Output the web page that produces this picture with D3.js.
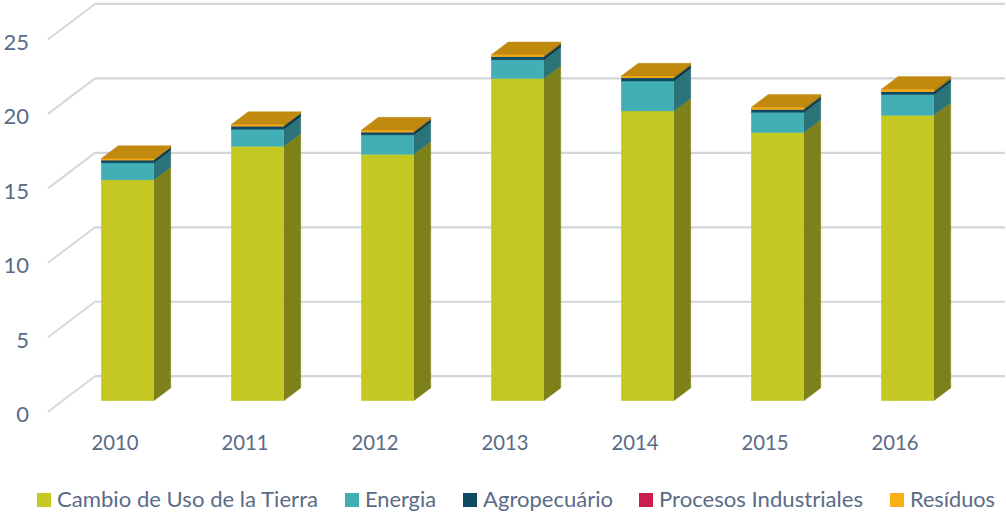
<!DOCTYPE html>
<html><head><meta charset="utf-8">
<script src="https://cdn.jsdelivr.net/npm/d3@7"></script>
<style>html,body{margin:0;padding:0;background:#fff;}svg{display:block;}</style>
</head><body>
<svg id="c" width="1006" height="516"></svg>
<script>
const years = ["2010","2011","2012","2013","2014","2015","2016"];
const cambio   = [14.83, 17.09, 16.55, 21.64, 19.46, 18.01, 19.17];
const energia  = [1.14, 1.14, 1.30, 1.25, 2.01, 1.36, 1.39];
const agro     = [0.18, 0.20, 0.18, 0.20, 0.20, 0.18, 0.18];
const procesos = [0.01, 0.01, 0.01, 0.01, 0.01, 0.01, 0.01];
const residuos = [0.11, 0.11, 0.13, 0.13, 0.13, 0.15, 0.16];
const seriesNames = ["Cambio de Uso de la Tierra","Energia","Agropecuário","Procesos Industriales","Resíduos"];
const yTicks = [0,5,10,15,20,25];

const seriesVals = [cambio, energia, agro, procesos, residuos];
const front = ["#C3C823","#42AEB6","#0C4B62","#CC1E4A","#F5AA0E"];
const side  = ["#7E8019","#2A7378","#083547","#8A1432","#A8760A"];
const topC  = "#C1890E";
const legendSw = ["#C3C823","#42AEB6","#0C4B62","#CC1E4A","#F9B016"];

const svg = d3.select("#c");
const DX = 47, DY = 35.5;
const y = d3.scaleLinear().domain([0,25]).range([411.7, 39.45]);
const x = d3.scaleBand().domain(years).range([48, 958]).paddingInner(0.596).paddingOuter(0.298);
const textColor = "#5A6B86";
const font = "Lato, 'Open Sans', sans-serif";

const g = svg.append("g");
yTicks.forEach(t => {
  const yf = y(t), yb = y(t) - DY;
  g.append("line").attr("x1",48).attr("y1",yf).attr("x2",48+DX).attr("y2",yb)
    .attr("stroke","#D6D8DC").attr("stroke-width",2);
  g.append("line").attr("x1",48+DX).attr("y1",yb).attr("x2",1005).attr("y2",yb)
    .attr("stroke","#D3D5D9").attr("stroke-width",2.2);
  svg.append("text").attr("x",29).attr("y",yf+2).attr("text-anchor","end")
    .attr("dominant-baseline","central").attr("fill",textColor)
    .style("font-family",font).style("font-size","22px").text(t);
});

const d0 = 0.31, d1 = 0.67;
const bars = svg.append("g");
years.forEach((yr, i) => {
  const xl = x(yr) + d0*DX, xr = xl + x.bandwidth();
  const sdx = (d1-d0)*DX, sdy = (d1-d0)*DY, oy = -d0*DY;
  let cum = 0;
  const bg = bars.append("g");
  seriesVals.forEach((arr, s) => {
    const v = arr[i];
    const yb = y(cum) + oy, yt = y(cum+v) + oy;
    cum += v;
    const sw = v < 0.05 ? 0 : 0.4;
    bg.append("path").attr("d",`M${xr},${yb}L${xr+sdx},${yb-sdy}L${xr+sdx},${yt-sdy}L${xr},${yt}Z`)
      .attr("fill",side[s]).attr("stroke",side[s]).attr("stroke-width",sw);
    bg.append("rect").attr("x",xl).attr("y",yt).attr("width",xr-xl).attr("height",yb-yt)
      .attr("fill",front[s]).attr("stroke",front[s]).attr("stroke-width",sw);
  });
  const yt = y(cum) + oy;
  bg.append("path").attr("d",`M${xl},${yt}L${xl+sdx},${yt-sdy}L${xr+sdx},${yt-sdy}L${xr},${yt}Z`)
    .attr("fill",topC).attr("stroke",topC).attr("stroke-width",0.4);
});

years.forEach(yr => {
  svg.append("text").attr("x", x(yr) + x.bandwidth()/2 + 2).attr("y",450)
    .attr("text-anchor","middle").attr("fill",textColor)
    .style("font-family",font).style("font-size","22px")
    .attr("textLength",47).attr("lengthAdjust","spacingAndGlyphs").text(yr);
});

const legX = [37, 345, 463, 639, 890];
const legW = [261, 71, 130, 204, 85];
const lg = svg.append("g");
seriesNames.forEach((n, s) => {
  lg.append("rect").attr("x",legX[s]).attr("y",493).attr("width",14).attr("height",14).attr("fill",legendSw[s]);
  lg.append("text").attr("x",legX[s]+20).attr("y",507).attr("fill",textColor)
    .style("font-family",font).style("font-size","22px")
    .attr("textLength",legW[s]).attr("lengthAdjust","spacingAndGlyphs").text(n);
});
</script>
</body></html>
